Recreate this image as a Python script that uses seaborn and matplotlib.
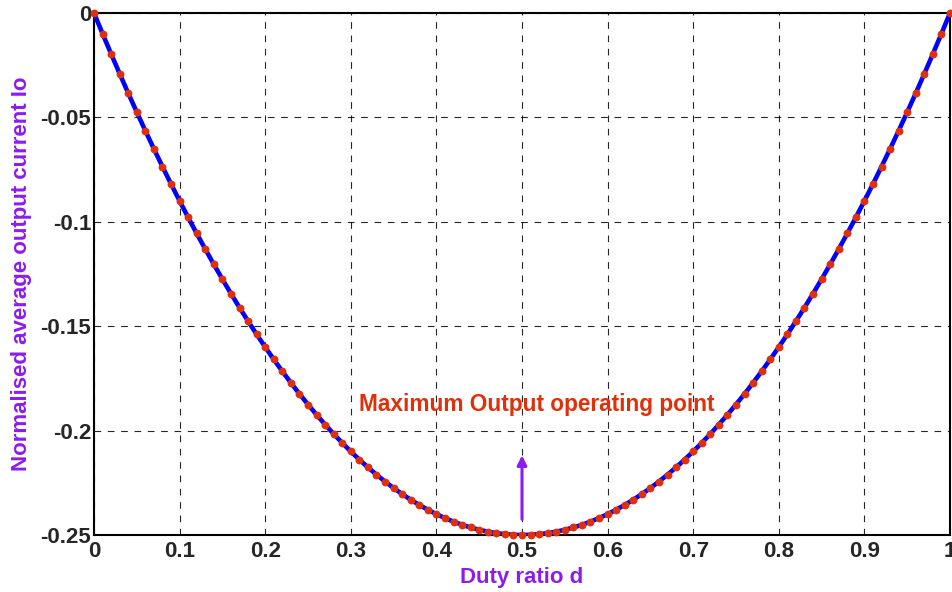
import matplotlib
matplotlib.use("Agg")
import matplotlib.pyplot as plt
import seaborn as sns
import pandas as pd

duty = [0.00, 0.01, 0.02, 0.03, 0.04, 0.05, 0.06, 0.07, 0.08, 0.09,
        0.10, 0.11, 0.12, 0.13, 0.14, 0.15, 0.16, 0.17, 0.18, 0.19,
        0.20, 0.21, 0.22, 0.23, 0.24, 0.25, 0.26, 0.27, 0.28, 0.29,
        0.30, 0.31, 0.32, 0.33, 0.34, 0.35, 0.36, 0.37, 0.38, 0.39,
        0.40, 0.41, 0.42, 0.43, 0.44, 0.45, 0.46, 0.47, 0.48, 0.49,
        0.50, 0.51, 0.52, 0.53, 0.54, 0.55, 0.56, 0.57, 0.58, 0.59,
        0.60, 0.61, 0.62, 0.63, 0.64, 0.65, 0.66, 0.67, 0.68, 0.69,
        0.70, 0.71, 0.72, 0.73, 0.74, 0.75, 0.76, 0.77, 0.78, 0.79,
        0.80, 0.81, 0.82, 0.83, 0.84, 0.85, 0.86, 0.87, 0.88, 0.89,
        0.90, 0.91, 0.92, 0.93, 0.94, 0.95, 0.96, 0.97, 0.98, 0.99, 1.00]

current = [0.0, -0.0099, -0.0196, -0.0291, -0.0384, -0.0475, -0.0564, -0.0651, -0.0736, -0.0819,
           -0.0900, -0.0979, -0.1056, -0.1131, -0.1204, -0.1275, -0.1344, -0.1411, -0.1476, -0.1539,
           -0.1600, -0.1659, -0.1716, -0.1771, -0.1824, -0.1875, -0.1924, -0.1971, -0.2016, -0.2059,
           -0.2100, -0.2139, -0.2176, -0.2211, -0.2244, -0.2275, -0.2304, -0.2331, -0.2356, -0.2379,
           -0.2400, -0.2419, -0.2436, -0.2451, -0.2464, -0.2475, -0.2484, -0.2491, -0.2496, -0.2499,
           -0.2500, -0.2499, -0.2496, -0.2491, -0.2484, -0.2475, -0.2464, -0.2451, -0.2436, -0.2419,
           -0.2400, -0.2379, -0.2356, -0.2331, -0.2304, -0.2275, -0.2244, -0.2211, -0.2176, -0.2139,
           -0.2100, -0.2059, -0.2016, -0.1971, -0.1924, -0.1875, -0.1824, -0.1771, -0.1716, -0.1659,
           -0.1600, -0.1539, -0.1476, -0.1411, -0.1344, -0.1275, -0.1204, -0.1131, -0.1056, -0.0979,
           -0.0900, -0.0819, -0.0736, -0.0651, -0.0564, -0.0475, -0.0384, -0.0291, -0.0196, -0.0099, 0.0]

xticks = [0, 0.1, 0.2, 0.3, 0.4, 0.5, 0.6, 0.7, 0.8, 0.9, 1]
xtick_labels = ["0", "0.1", "0.2", "0.3", "0.4", "0.5", "0.6", "0.7", "0.8", "0.9", "1"]
yticks = [0, -0.05, -0.1, -0.15, -0.2, -0.25]
ytick_labels = ["0", "-0.05", "-0.1", "-0.15", "-0.2", "-0.25"]

annot_text = "Maximum Output operating point"
annot_xy = (0.5175, -0.1875)
arrow_tail = (0.5, -0.2438)
arrow_head = (0.5, -0.2105)

df = pd.DataFrame({"d": duty, "Io": current})

sns.set_style("white")
plt.rcParams["font.family"] = ["Liberation Sans", "DejaVu Sans"]

fig = plt.figure(figsize=(9.53, 5.92), dpi=100)
ax = fig.add_axes([94 / 953, 1 - 535 / 592, (950 - 94) / 953, (535 - 13) / 592])

sns.lineplot(data=df, x="d", y="Io", ax=ax, color="#0000FF", linewidth=3.3, zorder=3)
sns.scatterplot(data=df, x="d", y="Io", ax=ax, color="#E0300A", s=32, edgecolor="#E0300A",
                linewidth=0, zorder=4, clip_on=False)

ax.set_xlim(0, 1)
ax.set_ylim(-0.25, 0)
ax.set_xticks(xticks)
ax.set_xticklabels(xtick_labels, fontsize=16, fontweight="bold")
ax.set_yticks(yticks)
ax.set_yticklabels(ytick_labels, fontsize=16, fontweight="bold")
ax.tick_params(axis="y", length=0, pad=2)
ax.tick_params(axis="x", length=0, pad=4)

ax.grid(True, color="black", linestyle=(0, (6, 6)), linewidth=0.8, alpha=0.85)
for sp in ax.spines.values():
    sp.set_visible(True)
    sp.set_color("black")
    sp.set_linewidth(1.5)

ax.set_xlabel("Duty ratio d", fontsize=16, fontweight="bold", color="#8B1CF0", labelpad=4)
ax.set_ylabel("Normalised average output current Io", fontsize=16, fontweight="bold",
              color="#8B1CF0", labelpad=6)

ax.text(annot_xy[0], annot_xy[1], annot_text, color="#E0300A", fontsize=16.3,
        fontweight="bold", ha="center", va="center")
ax.annotate("", xy=arrow_head, xytext=arrow_tail,
            arrowprops=dict(arrowstyle="-|>", color="#8B1CF0", lw=2.2, mutation_scale=14))

fig.savefig("out.png", dpi=100)
